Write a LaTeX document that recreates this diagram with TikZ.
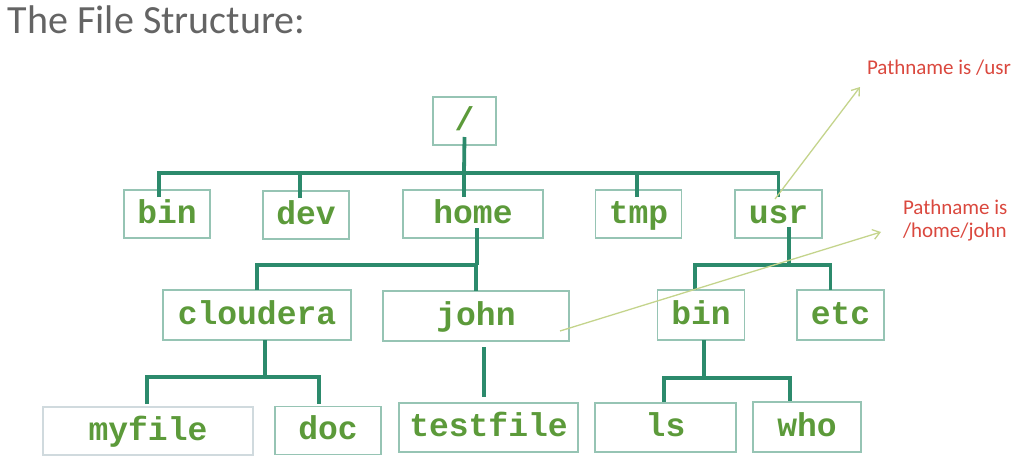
\documentclass[tikz,border=0pt]{standalone}
\usepackage{fontspec}
\setmainfont{Carlito}
\setmonofont{Liberation Mono}
\usepackage[svgnames]{xcolor}
\usetikzlibrary{arrows.meta}
\definecolor{DirText}{RGB}{92,154,58}
\definecolor{DirLine}{RGB}{44,138,108}
\definecolor{DirBox}{RGB}{150,196,180}
\definecolor{FileBox}{RGB}{208,218,222}
\definecolor{NoteRed}{RGB}{218,72,62}
\definecolor{NoteArrow}{RGB}{196,212,140}
\definecolor{TitleGray}{RGB}{100,100,100}

\begin{document}
\begin{tikzpicture}[x=1pt, y=-1pt,
      every node/.append style={inner sep=0pt, outer sep=0pt},
      dir/.style={draw=DirBox, line width=1.3pt, text=DirText,
        font=\fontsize{33}{33}\selectfont\ttfamily\bfseries,
        text height=22pt, text depth=4pt, minimum height=48pt},
      link/.style={draw=DirLine, line width=3.8pt},
      note/.style={text=NoteRed, font=\fontsize{21}{23}\selectfont, align=left},
      pointer/.style={draw=NoteArrow, line width=1.3pt, -{Straight Barb[length=7pt,width=10pt]}}]
	  \tikzstyle{lower} = [minimum height=50pt]
	  \useasboundingbox (0,0) rectangle (1029,463);
	  \node (title) [anchor=base west, text=TitleGray, font=\fontsize{40}{40}\selectfont] at (8,33) {The File Structure:};
	  % top levels
	  \node (root) [dir, minimum width=63pt] at (464.5,121) {/};
	  \node (bin) [dir, minimum width=86pt] at (167,214) {bin};
	  \node (dev) [dir, minimum width=86pt] at (306,215) {dev};
	  \node (home) [dir, minimum width=140pt] at (473,214) {home};
	  \node (tmp) [dir, minimum width=86pt] at (638.5,214) {tmp};
	  \node (usr) [dir, minimum width=87pt] at (778.5,214) {usr};
	  \node (cloudera) [dir, lower, minimum width=188pt] at (257,315) {cloudera};
	  \node (john) [dir, lower, minimum width=186pt] at (476,316) {john};
	  \node (ubin) [dir, lower, minimum width=87pt] at (701,315) {bin};
	  \node (etc) [dir, lower, minimum width=87pt] at (840.5,315) {etc};
	  % leaves
	  \node (myfile) [dir, draw=FileBox, minimum width=210pt] at (148,431) {myfile};
	  \node (doc) [dir, minimum width=106pt] at (328,430.5) {doc};
	  \node (testfile) [dir, minimum height=49pt, minimum width=179pt] at (488.5,427.5) {testfile};
	  \node (ls) [dir, minimum height=49pt, minimum width=141pt] at (665.5,427.5) {ls};
	  \node (who) [dir, lower, minimum width=108pt] at (807,427) {who};
	  \coordinate (b1) at (464,173);
	  \coordinate (b2) at (477,265);
	  \coordinate (b3) at (789,265);
	  \coordinate (b4) at (265,377);
	  \coordinate (b5) at (704,378);
	  \draw[link] ([yshift=8pt]root.south) -- (b1);
	  \draw[link] (b1) -- ([xshift=-9pt,yshift=-7pt]home.north);
	  \draw[link] ([xshift=-8pt,yshift=-7pt]bin.north) |- (b1) -| ([yshift=-7pt]usr.north);
	  \draw[link] ([xshift=-6pt,yshift=-7pt]dev.north) |- (b1);
	  \draw[link] ([xshift=-1.5pt,yshift=-7pt]tmp.north) |- (b1);
	  \draw[link] ([xshift=4pt,yshift=10pt]home.south) -- (b2);
	  \draw[link] (cloudera.north) |- (b2) -| (john.north);
	  \draw[link] ([xshift=10.5pt,yshift=11pt]usr.south) -- (b3);
	  \draw[link] ([xshift=-6pt]ubin.north) |- (b3) -| ([xshift=-10pt]etc.north);
	  \draw[link] ([xshift=8pt]cloudera.south) -- (b4);
	  \draw[link] ([xshift=-1pt,yshift=3pt]myfile.north) |- (b4) -| ([xshift=-9pt,yshift=3pt]doc.north);
	  \draw[link] ([xshift=8pt,yshift=-6pt]john.south) -- ([xshift=-4.5pt,yshift=6pt]testfile.north);
	  \draw[link] ([xshift=3pt]ubin.south) -- (b5);
	  \draw[link] ([xshift=-1.5pt,yshift=1pt]ls.north) |- (b5) -| ([xshift=-17pt,yshift=1pt]who.north);
	  % pathname notes
	  \node (usrnote) [note, anchor=base west] at (867,74) {Pathname is /usr};
	  \node (johnnote) [note, anchor=west] at (903,221) {Pathname is\\/home/john};
	  \coordinate (usrtip) at (860,87);
	  \coordinate (johntip) at (881,232);
	  \draw[pointer] ([xshift=-3.5pt,yshift=-9pt]usr.north) -- (usrtip);
	  \draw[pointer] ([xshift=-9pt,yshift=10pt]john.south east) -- (johntip);
\end{tikzpicture}
\end{document}
